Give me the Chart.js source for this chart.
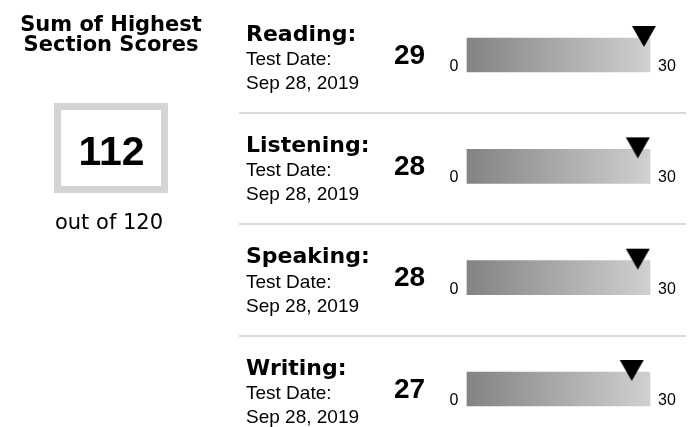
<!DOCTYPE html>
<html>
<head>
<meta charset="utf-8">
<script src="https://cdn.jsdelivr.net/npm/chart.js@4.4.0/dist/chart.umd.min.js"></script>
<style>
  html, body { margin: 0; padding: 0; background: #fff; }
  #wrap { width: 693px; height: 427px; }
</style>
</head>
<body>
<div id="wrap"><canvas id="scoresChart" width="693" height="427"></canvas></div>
<script>
// Dados do relatório
const sections = ['Reading', 'Listening', 'Speaking', 'Writing'];
const scores = [29, 28, 28, 27];
const testDates = ['Sep 28, 2019', 'Sep 28, 2019', 'Sep 28, 2019', 'Sep 28, 2019'];
const rangeMax = [30, 30, 30, 30];
const scaleMin = 0;
const scaleMax = 30;
const totalScore = 112;
const totalMax = 120;

// Marcador (triângulo) desenhado acima do centro da barra
const makeMarker = () => {
    const c = document.createElement('canvas');
    c.width = 26;
    c.height = 60;
    const g = c.getContext('2d');
    g.fillStyle = '#000';
    g.beginPath();
    g.moveTo(1, 1);
    g.lineTo(25, 1);
    g.lineTo(13, 22);
    g.closePath();
    g.fill();
    return c;
};

// Textos, painel da esquerda e separadores
const scorePanel = {
    id: 'scorePanel',
    afterDraw(chart) {
        const ctx = chart.ctx;
        const x = chart.scales.x;
        const y = chart.scales.y;
        const x0 = x.getPixelForValue(scaleMin);
        const x1 = x.getPixelForValue(scaleMax);
        ctx.save();

        // separadores entre secções
        ctx.strokeStyle = '#d9d9d9';
        ctx.lineWidth = 2;
        for (let i = 0; i < sections.length - 1; i++) {
            const yy = Math.round((y.getPixelForValue(i) + y.getPixelForValue(i + 1)) / 2 + 2.5);
            ctx.beginPath();
            ctx.moveTo(239, yy);
            ctx.lineTo(686, yy);
            ctx.stroke();
        }

        ctx.fillStyle = '#000';
        sections.forEach((name, i) => {
            const cy = y.getPixelForValue(i);
            ctx.textAlign = 'left';
            ctx.textBaseline = 'alphabetic';
            ctx.font = 'bold 22px "DejaVu Sans"';
            ctx.fillText(name + ':', 246, cy - 14.5);
            ctx.font = '19px "Liberation Sans"';
            ctx.fillText('Test Date:', 246, cy + 10);
            ctx.fillText(testDates[i], 246, cy + 34);
            ctx.font = 'bold 28px "Liberation Sans"';
            ctx.fillText(String(scores[i]), 394, cy + 8.5);
            ctx.font = '16px "Liberation Sans"';
            ctx.textAlign = 'right';
            ctx.fillText(String(scaleMin), x0 - 8.5, cy + 16);
            ctx.textAlign = 'left';
            ctx.fillText(String(scaleMax), x1 + 8, cy + 16);
        });

        // painel do total
        ctx.textAlign = 'center';
        ctx.font = 'bold 21px "DejaVu Sans"';
        ctx.fillText('Sum of Highest', 111, 31);
        ctx.fillText('Section Scores', 111, 51);
        ctx.strokeStyle = '#d4d4d4';
        ctx.lineWidth = 7;
        ctx.strokeRect(57.5, 106.5, 107, 83);
        ctx.font = 'bold 41px "Liberation Sans"';
        ctx.fillText(String(totalScore), 111.5, 165);
        ctx.font = '21px "DejaVu Sans"';
        ctx.fillText('out of ' + totalMax, 109, 229);
        ctx.restore();
    }
};

const ctx = document.getElementById('scoresChart').getContext('2d');
new Chart(ctx, {
    type: 'bar',
    data: {
        labels: sections,
        datasets: [{
            type: 'bar',
            data: rangeMax,
            backgroundColor: (context) => {
                const area = context.chart.chartArea;
                if (!area) return '#aaa';
                const g = context.chart.ctx.createLinearGradient(area.left, 0, area.right, 0);
                g.addColorStop(0, '#838383');
                g.addColorStop(1, '#d0d0d0');
                return g;
            },
            borderWidth: 0,
            barThickness: 34,
            clip: false,
            order: 2
        }, {
            type: 'line',
            indexAxis: 'y',
            data: scores,
            showLine: false,
            pointStyle: makeMarker(),
            pointRadius: 10,
            clip: false,
            order: 1
        }]
    },
    options: {
        indexAxis: 'y',
        responsive: false,
        devicePixelRatio: 1,
        animation: false,
        layout: {
            padding: { left: 467, right: 43, top: 55, bottom: 38 }
        },
        plugins: {
            legend: { display: false },
            tooltip: { enabled: false }
        },
        scales: {
            x: { type: 'linear', min: scaleMin, max: scaleMax, display: false },
            y: { type: 'category', offset: false, display: false }
        }
    },
    plugins: [scorePanel]
});
</script>
</body>
</html>
